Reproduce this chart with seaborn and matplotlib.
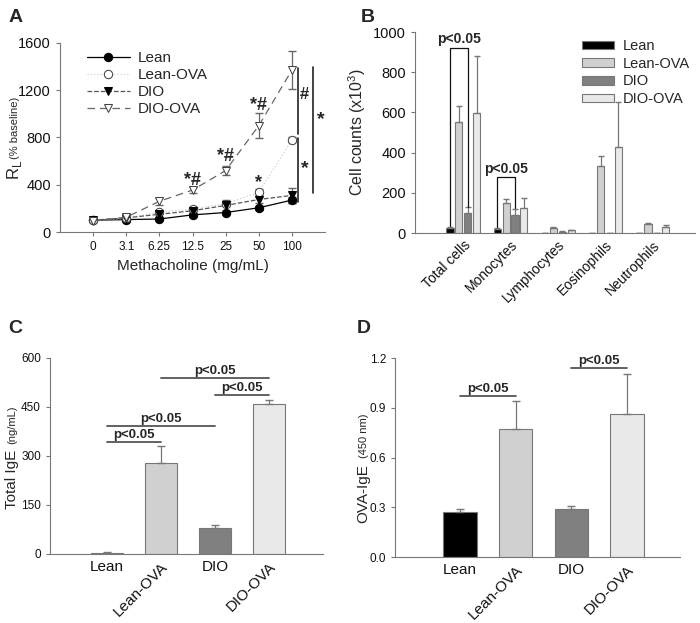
import numpy as np
import pandas as pd
import seaborn as sns
import matplotlib.pyplot as plt

# データ
groups = ['Lean', 'Lean-OVA', 'DIO', 'DIO-OVA']
doses = ['0', '3.1', '6.25', '12.5', '25', '50', '100']
rl_lean = [100, 105, 110, 145, 165, 205, 270]
rl_lean_ova = [100, 115, 170, 195, 240, 335, 780]
rl_dio = [100, 120, 150, 180, 225, 275, 310]
rl_dio_ova = [95, 125, 260, 355, 520, 900, 1370]
rl_lean_err = [5, 5, 10, 15, 15, 15, 25]
rl_lean_ova_err = [5, 8, 15, 20, 20, 25, 20]
rl_dio_err = [5, 10, 20, 35, 45, 30, 65]
rl_dio_ova_err = [5, 10, 30, 25, 40, 105, 160]

cells = ['Total cells', 'Monocytes', 'Lymphocytes', 'Eosinophils', 'Neutrophils']
cc_lean = [25, 22, 2, 0, 0]
cc_lean_ova = [550, 148, 25, 335, 43]
cc_dio = [100, 92, 6, 0, 2]
cc_dio_ova = [595, 122, 13, 430, 32]
cc_lean_err = [5, 5, 0, 0, 0]
cc_lean_ova_err = [80, 20, 3, 48, 5]
cc_dio_err = [30, 28, 2, 0, 0]
cc_dio_ova_err = [285, 50, 4, 220, 10]

total_ige = [3, 277, 78, 458]
total_ige_err = [2, 55, 12, 13]
ova_ige = [0.27, 0.77, 0.29, 0.865]
ova_ige_err = [0.02, 0.17, 0.02, 0.24]

bar_colors = ['#000000', '#d0d0d0', '#808080', '#e9e9e9']

sns.set_style('ticks')
plt.rcParams['font.family'] = ['Liberation Sans', 'DejaVu Sans']

fig = plt.figure(figsize=(7, 6.23), dpi=100)
axA = fig.add_axes([0.0857, 0.6276, 0.3786, 0.3034])
axB = fig.add_axes([0.5929, 0.626, 0.4, 0.3226])
axC = fig.add_axes([0.0714, 0.1108, 0.39, 0.3146])
axD = fig.add_axes([0.5643, 0.1059, 0.407, 0.3194])

spine_col = '#777777'
for ax in [axA, axB, axC, axD]:
    sns.despine(ax=ax)
    for s in ['left', 'bottom']:
        ax.spines[s].set_color(spine_col)
    ax.tick_params(colors=spine_col, labelcolor='#111111', length=3)

# ---- A: 気道抵抗 ----
pos = np.arange(len(doses))
styles = [
    (rl_lean, rl_lean_err, dict(color='#000000', linestyle='-', marker='o', markerfacecolor='#000000', markeredgecolor='#000000')),
    (rl_lean_ova, rl_lean_ova_err, dict(color='#cfcfcf', linestyle=':', marker='o', markerfacecolor='white', markeredgecolor='#444444')),
    (rl_dio, rl_dio_err, dict(color='#555555', linestyle='--', marker='v', markerfacecolor='#000000', markeredgecolor='#000000')),
    (rl_dio_ova, rl_dio_ova_err, dict(color='#666666', linestyle=(0, (6, 4)), marker='v', markerfacecolor='white', markeredgecolor='#444444')),
]
for g, (vals, errs, st) in zip(groups, styles):
    axA.errorbar(pos, vals, yerr=errs, fmt='none', ecolor='#666666', elinewidth=0.9, capsize=3, zorder=2)
    sns.lineplot(x=pos, y=vals, ax=axA, linewidth=0.9, markersize=6, zorder=3, label=g, **st)
axA.legend(loc='upper left', bbox_to_anchor=(0.05, 1.03), frameon=False, fontsize=11,
           handlelength=2.8, labelspacing=0.2, handletextpad=0.5)
axA.set_xlim(-1, 7)
axA.set_ylim(0, 1600)
axA.set_yticks([0, 400, 800, 1200, 1600])
axA.set_xticks(pos)
axA.set_xticklabels(doses, fontsize=8.5)
axA.tick_params(axis='y', labelsize=10.5)
axA.set_xlabel('Methacholine (mg/mL)', fontsize=11)
axA.set_ylabel('')
axA.text(-0.17, 0.33, 'R$_\\mathregular{L}$', fontsize=12, rotation=90, transform=axA.transAxes, ha='center', va='center')
axA.text(-0.17, 0.55, '(% baseline)', fontsize=8, rotation=90, transform=axA.transAxes, ha='center', va='center')
for x, y, t in [(3, 440, '*#'), (4, 640, '*#'), (5, 1070, '*#'), (5, 415, '*')]:
    axA.text(x, y, t, fontsize=13, fontweight='bold', ha='center', va='center')
axA.plot([6.18, 6.18], [1390, 830], color='#222222', lw=1.2, clip_on=False)
axA.plot([6.18, 6.18], [796, 255], color='#222222', lw=1.2, clip_on=False)
axA.plot([6.64, 6.64], [1400, 330], color='#222222', lw=1.2, clip_on=False)
axA.text(6.38, 1160, '#', fontsize=12, fontweight='bold', ha='center', va='center', clip_on=False)
axA.text(6.38, 540, '*', fontsize=14, fontweight='bold', ha='center', va='center', clip_on=False)
axA.text(6.88, 950, '*', fontsize=14, fontweight='bold', ha='center', va='center', clip_on=False)

# ---- B: 細胞数 ----
df_b = pd.DataFrame({
    'cell': cells * 4,
    'group': np.repeat(groups, len(cells)),
    'value': cc_lean + cc_lean_ova + cc_dio + cc_dio_ova,
})
errs_b = [cc_lean_err, cc_lean_ova_err, cc_dio_err, cc_dio_ova_err]
sns.barplot(data=df_b, x='cell', y='value', hue='group', palette=bar_colors, width=0.75, gap=0.2,
            edgecolor='#777777', linewidth=0.8, errorbar=None, ax=axB)
centers = []
for cont, vals_err, vals in zip(axB.containers, errs_b, [cc_lean, cc_lean_ova, cc_dio, cc_dio_ova]):
    xs = [p.get_x() + p.get_width() / 2 for p in cont.patches]
    centers.append(xs)
    e = np.array(vals_err)
    axB.errorbar(xs, vals, yerr=[np.zeros_like(e), e], fmt='none', ecolor='#777777', elinewidth=0.9,
                 capsize=2.5, zorder=1)
axB.legend(loc='upper right', bbox_to_anchor=(1.03, 1.03), frameon=False, fontsize=10.5,
           handlelength=2.2, handleheight=0.55, labelspacing=0.25, handletextpad=0.6)
axB.set_xlim(-1.02, 4.9)
axB.set_ylim(0, 1000)
axB.set_xlabel('')
axB.set_ylabel('Cell counts (x10$^\\mathregular{3}$)', fontsize=11.5)
axB.tick_params(axis='y', labelsize=10.5)
axB.tick_params(axis='x', length=0)
plt.setp(axB.get_xticklabels(), rotation=45, ha='right', rotation_mode='anchor', fontsize=10)
for i, (y0, ytop, y1, ytxt) in enumerate([(35, 920, 130, 965), (30, 279, 125, 318)]):
    xa, xb = centers[0][i], centers[2][i]
    axB.plot([xa, xa, xb, xb], [y0, ytop, ytop, y1], color='#111111', lw=0.9)
    axB.text((xa + xb) / 2, ytxt, 'p<0.05', fontsize=10, fontweight='bold', ha='center', va='center')


# ---- C, D: IgE ----
def ige_panel(ax, vals, errs, ylim, yticks, sig, ytxt_off, fmt):
    df = pd.DataFrame({'group': groups, 'value': vals})
    sns.barplot(data=df, x='group', y='value', hue='group', palette=bar_colors, width=0.6,
                edgecolor='#777777', linewidth=0.8, errorbar=None, legend=False, ax=ax)
    xs = [p.get_x() + p.get_width() / 2 for p in ax.patches]
    e = np.array(errs)
    ax.errorbar(xs, vals, yerr=[np.zeros_like(e), e], fmt='none', ecolor='#777777', elinewidth=0.9,
                capsize=3, zorder=1)
    ax.set_ylim(*ylim)
    ax.set_yticks(yticks)
    ax.set_yticklabels([fmt.format(t) for t in yticks], fontsize=8.5)
    ax.set_xlabel('')
    ax.set_ylabel('')
    ax.tick_params(axis='x', length=0, pad=4)
    for lab in ax.get_xticklabels():
        lab.set_fontsize(11)
        if 'OVA' in lab.get_text():
            lab.set_rotation(45)
            lab.set_ha('right')
            lab.set_rotation_mode('anchor')
    for a, b, y in sig:
        ax.plot([a, b], [y, y], color='#555555', lw=1.3)
        ax.text((a + b) / 2, y + ytxt_off, 'p<0.05', fontsize=9.5, fontweight='bold', ha='center', va='bottom')
    return xs


ige_panel(axC, total_ige, total_ige_err, (0, 600), [0, 150, 300, 450, 600],
          [(0, 1, 343), (0, 2, 392), (1, 3, 539), (2, 3, 487)], 4, '{:.0f}')
axC.set_xlim(-1.05, 4.0)
axC.text(-0.14, 0.38, 'Total IgE', fontsize=11, rotation=90, transform=axC.transAxes, ha='center', va='center')
axC.text(-0.14, 0.66, '(ng/mL)', fontsize=8, rotation=90, transform=axC.transAxes, ha='center', va='center')

ige_panel(axD, ova_ige, ova_ige_err, (0, 1.2), [0, 0.3, 0.6, 0.9, 1.2],
          [(0, 1, 0.97), (2, 3, 1.14)], 0.008, '{:.1f}')
axD.set_xlim(-1.17, 3.95)
axD.text(-0.11, 0.32, 'OVA-IgE', fontsize=11, rotation=90, transform=axD.transAxes, ha='center', va='center')
axD.text(-0.11, 0.61, '(450 nm)', fontsize=8, rotation=90, transform=axD.transAxes, ha='center', va='center')

# パネル記号
for x, y, t in [(0.012, 0.985, 'A'), (0.516, 0.985, 'B'), (0.012, 0.486, 'C'), (0.51, 0.486, 'D')]:
    fig.text(x, y, t, fontsize=14, fontweight='bold', ha='left', va='top')

fig.savefig('out.png', dpi=100)
